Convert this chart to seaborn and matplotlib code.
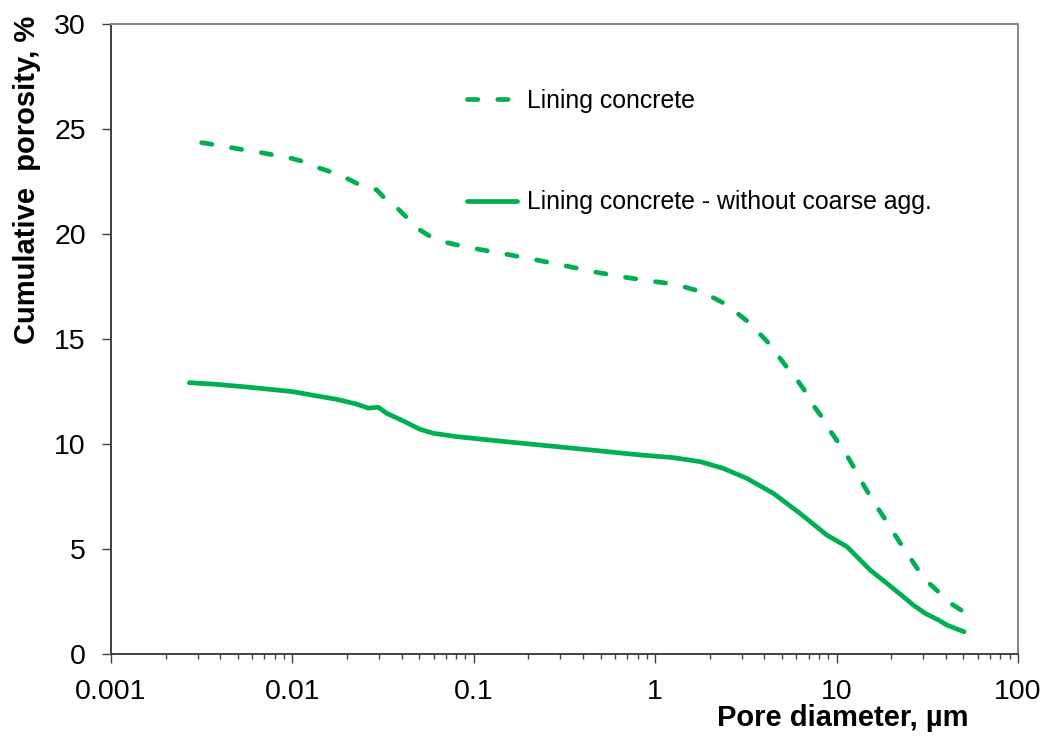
import numpy as np
import pandas as pd
import matplotlib
matplotlib.use("Agg")
import matplotlib.pyplot as plt
from matplotlib.ticker import FixedLocator, LogLocator, NullFormatter, FixedFormatter
import seaborn as sns

# ---- data ----
dashed_x = [0.00316, 0.00374, 0.00462, 0.00548, 0.00678, 0.00802, 0.0099, 0.01172, 0.01419, 0.0168,
            0.0203, 0.0236, 0.0292, 0.0324, 0.0384, 0.0436, 0.0505, 0.0586, 0.071, 0.0857,
            0.1038, 0.1486, 0.2173, 0.318, 0.466, 0.682, 1.0, 1.18, 1.43, 1.73,
            2.09, 2.43, 2.87, 3.33, 3.78, 4.30, 4.88, 5.42, 6.15, 6.84,
            7.5, 8.45, 9.27, 10.35, 11.5, 12.7, 13.9, 15.3, 17.0, 18.9,
            21.0, 23.1, 25.9, 28.6, 32.7, 37.2, 43.1, 50.4]
dashed_y = [24.35, 24.25, 24.11, 24.0, 23.87, 23.75, 23.6, 23.43, 23.13, 22.92,
            22.62, 22.33, 22.1, 21.68, 21.18, 20.71, 20.19, 19.84, 19.59, 19.43,
            19.29, 19.05, 18.78, 18.49, 18.19, 17.94, 17.73, 17.65, 17.49, 17.29,
            16.97, 16.67, 16.19, 15.75, 15.24, 14.73, 14.08, 13.56, 12.97, 12.41,
            11.8, 11.2, 10.6, 10.0, 9.40, 8.76, 8.13, 7.52, 6.90, 6.30,
            5.67, 5.11, 4.48, 3.92, 3.33, 2.89, 2.38, 2.0]

solid_x = [0.0027, 0.00383, 0.00583, 0.0101, 0.0136, 0.0175, 0.0226, 0.0262, 0.0298, 0.0331,
           0.0408, 0.0505, 0.0598, 0.0805, 0.139, 0.298, 0.497, 0.825, 1.26, 1.77,
           2.37, 3.19, 4.48, 6.28, 8.81, 11.4, 13.2, 15.3, 18.9, 23.3,
           26.5, 30.7, 36.4, 40.5, 50.4]
solid_y = [12.92, 12.84, 12.70, 12.49, 12.29, 12.13, 11.90, 11.71, 11.75, 11.46,
           11.10, 10.70, 10.51, 10.35, 10.14, 9.86, 9.67, 9.48, 9.35, 9.16,
           8.84, 8.37, 7.65, 6.70, 5.67, 5.11, 4.56, 4.0, 3.37, 2.73,
           2.33, 1.94, 1.62, 1.38, 1.06]

series_labels = ["Lining concrete", "Lining concrete - without coarse agg."]
x_ticks = [0.001, 0.01, 0.1, 1, 10, 100]
x_ticklabels = ["0.001", "0.01", "0.1", "1", "10", "100"]
y_ticks = [0, 5, 10, 15, 20, 25, 30]

# ---- style ----
sns.set_style("white")
plt.rcParams["font.family"] = ["Liberation Sans", "DejaVu Sans"]
plt.rcParams["text.color"] = "black"
plt.rcParams["axes.labelcolor"] = "black"

GREEN = "#00B050"
DARK = "#404040"
GRAY = "#868686"

fig = plt.figure(figsize=(10.49, 7.42), dpi=100)
ax = fig.add_axes([111 / 1049, 1 - 654 / 742, (1018 - 111) / 1049, (654 - 24) / 742])

df_d = pd.DataFrame({"d": dashed_x, "p": dashed_y})
df_s = pd.DataFrame({"d": solid_x, "p": solid_y})

lw = 3.4
sns.lineplot(data=df_d, x="d", y="p", ax=ax, color=GREEN, lw=lw,
             linestyle=(0, (2.2, 4.2)), dash_capstyle="round",
             label=series_labels[0], sort=False, estimator=None)
sns.lineplot(data=df_s, x="d", y="p", ax=ax, color=GREEN, lw=lw,
             solid_capstyle="round", solid_joinstyle="round",
             label=series_labels[1], sort=False, estimator=None)

ax.set_xscale("log")
ax.set_xlim(0.001, 100)
ax.set_ylim(0, 30)

ax.xaxis.set_major_locator(FixedLocator(x_ticks))
ax.xaxis.set_major_formatter(FixedFormatter(x_ticklabels))
ax.xaxis.set_minor_locator(LogLocator(base=10, subs=np.arange(2, 10), numticks=20))
ax.xaxis.set_minor_formatter(NullFormatter())
ax.set_yticks(y_ticks)
ax.set_yticklabels([str(v) for v in y_ticks])

ax.tick_params(axis="x", which="major", direction="out", length=6.5, width=1.0,
               color=DARK, labelsize=20.5, pad=11.5, labelcolor="black", bottom=True)
ax.tick_params(axis="x", which="minor", direction="out", length=3.8, width=1.0,
               color=DARK, bottom=True)
ax.tick_params(axis="y", which="major", direction="out", length=6.5, width=1.0,
               color=DARK, labelsize=20.5, pad=11.5, labelcolor="black", left=True)

for side in ["left", "bottom"]:
    ax.spines[side].set_color(DARK)
    ax.spines[side].set_linewidth(1.4)
for side in ["top", "right"]:
    ax.spines[side].set_color(GRAY)
    ax.spines[side].set_linewidth(1.4)
    ax.spines[side].set_visible(True)

ax.set_xlabel("Pore diameter, µm", fontsize=21, fontweight="bold")
ax.set_ylabel("Cumulative  porosity, %", fontsize=21, fontweight="bold")
ax.xaxis.set_label_coords(0.8065, -0.079)
ax.yaxis.set_label_coords(-0.077, 0.752)
ax.grid(False)

leg = ax.legend(loc="upper left", bbox_to_anchor=(0.3925, 0.897), frameon=False,
                fontsize=17.9, handlelength=2.01, handletextpad=0.42,
                labelspacing=3.12, borderpad=0, borderaxespad=0)
for t in leg.get_texts():
    t.set_color("black")

fig.savefig("out.png", dpi=100)
